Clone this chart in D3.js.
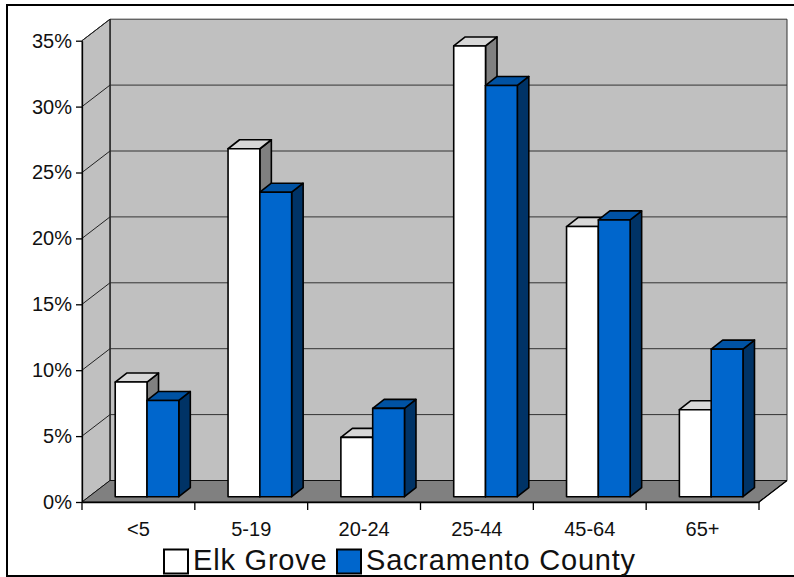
<!DOCTYPE html>
<html>
<head>
<meta charset="utf-8">
<script src="https://cdn.jsdelivr.net/npm/d3@7/dist/d3.min.js"></script>
<style>
  html, body { margin: 0; padding: 0; background: #fff; }
  svg { display: block; }
  text { font-family: "Liberation Sans", Arial, sans-serif; fill: #111; }
</style>
</head>
<body>
<svg id="chart" width="794" height="577"></svg>
<script>
// ---- data ----
const categories = ["<5", "5-19", "20-24", "25-44", "45-64", "65+"];
const elkGrove   = [8.7, 26.4, 4.5, 34.2, 20.5, 6.6];
const sacramento = [7.3, 23.1, 6.7, 31.2, 21.0, 11.2];
const seriesNames = ["Elk Grove", "Sacramento County"];
const yTicks = [0, 5, 10, 15, 20, 25, 30, 35];

// ---- layout ----
const svg = d3.select("#chart");
const X0 = 82, X1 = 759, Y0 = 502, YTOP = 40.7;
const DX = 28, DY = -21.5;          // wall depth
const FX = 8.6, FY = -5.3;          // bar front offset inside depth
const BDX = 11.5, BDY = -9;         // bar depth
const BW = 31.8;                    // bar width

const x = d3.scaleBand().domain(categories).range([X0, X1]);
const y = d3.scaleLinear().domain([0, 35]).range([Y0, YTOP]);

// outer frame
svg.append("rect").attr("x", 7).attr("y", 5).attr("width", 820).attr("height", 571)
  .attr("fill", "none").attr("stroke", "#000").attr("stroke-width", 2);

// walls
const yMax = y(35);
svg.append("polygon")
  .attr("points", [[X0 + DX, yMax + DY], [X1 + DX, yMax + DY], [X1 + DX, Y0 + DY], [X0 + DX, Y0 + DY]].join(" "))
  .attr("fill", "#c0c0c0").attr("stroke", "#333").attr("stroke-width", 1);
svg.append("polygon")
  .attr("points", [[X0, yMax], [X0 + DX, yMax + DY], [X0 + DX, Y0 + DY], [X0, Y0]].join(" "))
  .attr("fill", "#c0c0c0").attr("stroke", "#222").attr("stroke-width", 1);
// floor
svg.append("polygon")
  .attr("points", [[X0, Y0], [X1, Y0], [X1 + DX, Y0 + DY], [X0 + DX, Y0 + DY]].join(" "))
  .attr("fill", "#808080").attr("stroke", "#111").attr("stroke-width", 1);

// gridlines
const grid = svg.append("g");
yTicks.slice(1, -1).forEach(t => {
  grid.append("line").attr("x1", X0 + DX).attr("x2", X1 + DX)
    .attr("y1", y(t) + DY).attr("y2", y(t) + DY).attr("stroke", "#333").attr("stroke-width", 1);
});
yTicks.slice(1).forEach(t => {
  grid.append("line").attr("x1", X0).attr("x2", X0 + DX)
    .attr("y1", y(t)).attr("y2", y(t) + DY).attr("stroke", "#222").attr("stroke-width", 1);
});
grid.append("line").attr("x1", X0 + DX).attr("x2", X0 + DX)
  .attr("y1", yMax + DY).attr("y2", Y0 + DY).attr("stroke", "#222");

// bars
const styles = [
  { front: "#ffffff", top: "#d8d8d8", side: "#808080" },
  { front: "#0066cc", top: "#0052a3", side: "#003366" }
];
const series = [elkGrove, sacramento];
const bars = svg.append("g").attr("stroke", "#000").attr("stroke-width", 1.6).attr("stroke-linejoin", "round");
categories.forEach((c, i) => {
  const cx = x(c) + x.bandwidth() / 2 + FX;
  series.forEach((vals, s) => {
    const xl = cx - BW + s * BW;
    const xr = xl + BW;
    const yt = y(vals[i]) + FY;
    const yb = y(0) + FY;
    const st = styles[s];
    bars.append("polygon")
      .attr("points", [[xr, yt], [xr + BDX, yt + BDY], [xr + BDX, yb + BDY], [xr, yb]].join(" "))
      .attr("fill", st.side);
    bars.append("polygon")
      .attr("points", [[xl, yt], [xr, yt], [xr + BDX, yt + BDY], [xl + BDX, yt + BDY]].join(" "))
      .attr("fill", st.top);
    bars.append("rect").attr("x", xl).attr("y", yt).attr("width", BW).attr("height", yb - yt)
      .attr("fill", st.front);
  });
});

// y axis
const yAxis = svg.append("g").attr("transform", `translate(${X0},0)`)
  .call(d3.axisLeft(y).tickValues(yTicks).tickSize(6).tickSizeOuter(0).tickPadding(4).tickFormat(d => d + "%"));
yAxis.select(".domain").attr("stroke", "#000").attr("stroke-width", 1.3);
yAxis.selectAll(".tick line").attr("stroke", "#000").attr("stroke-width", 1.3);
yAxis.selectAll("text").style("font-size", "20px").attr("fill", "#111");

// x axis
const xAxis = svg.append("g").attr("transform", `translate(0,${Y0})`)
  .call(d3.axisBottom(x).tickSize(0).tickPadding(20).tickSizeOuter(0));
xAxis.select(".domain").attr("stroke", "#000").attr("stroke-width", 1.3);
xAxis.selectAll("text").style("font-size", "20px").attr("fill", "#111");
const bounds = categories.map(c => x(c)).concat([x.range()[1]]);
xAxis.selectAll(".bound").data(bounds).join("line").attr("class", "bound")
  .attr("x1", d => d).attr("x2", d => d).attr("y1", 0).attr("y2", 8)
  .attr("stroke", "#000").attr("stroke-width", 1.3);

// floor right edge
svg.append("line").attr("x1", X1).attr("y1", Y0).attr("x2", X1 + DX).attr("y2", Y0 + DY)
  .attr("stroke", "#000").attr("stroke-width", 1.3);

// legend
const legendX = [164, 337];
const legend = svg.append("g");
seriesNames.forEach((n, i) => {
  legend.append("rect").attr("x", legendX[i]).attr("y", 549.5).attr("width", 24).attr("height", 24)
    .attr("fill", styles[i].front).attr("stroke", "#000").attr("stroke-width", 2);
  legend.append("text").attr("x", legendX[i] + 29).attr("y", 570)
    .style("font-size", "29px").style("letter-spacing", "0.8px").text(n);
});
</script>
</body>
</html>
